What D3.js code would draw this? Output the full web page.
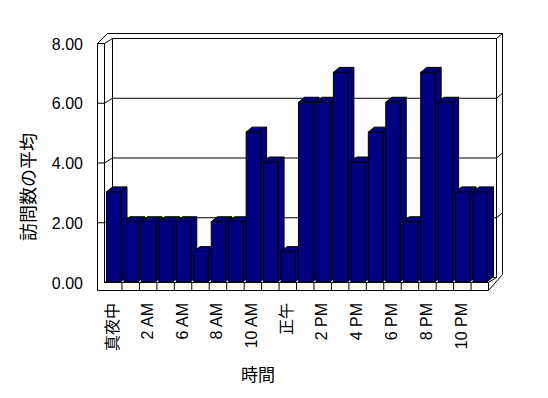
<!DOCTYPE html>
<html><head><meta charset="utf-8">
<script src="https://cdn.jsdelivr.net/npm/d3@7/dist/d3.min.js"></script>
<style>
html,body{margin:0;padding:0;background:#fff;}
text{font-family:"Liberation Sans","Noto Sans CJK JP",sans-serif;fill:#000;}
</style></head><body>
<svg id="c" width="548" height="398"></svg>
<script>
const categories = ["真夜中","1 AM","2 AM","5 AM","6 AM","7 AM","8 AM","9 AM","10 AM","11 AM","正午","1 PM","2 PM","3 PM","4 PM","5 PM","6 PM","7 PM","8 PM","9 PM","10 PM","11 PM"];
const values = [3,2,2,2,2,1,2,2,5,4,1,6,6,7,4,5,6,2,7,6,3,3];
const yTicks = [0,2,4,6,8];
const yTitle = "訪問数の平均";
const xTitle = "時間";

const svg = d3.select("#c");
const g = svg.append("g").attr("transform","translate(0.5,0.5)");

const x = d3.scaleBand().domain(categories).range([104,488]).paddingInner(0).paddingOuter(0);
const y = d3.scaleLinear().domain([0,8]).range([282,43]);

const wdx = 8, wdy = -5;   // wall depth
const bdx = 6, bdy = -5;   // bar depth
const L = 97, R0 = 104, R1 = 488;
const yTop = y(8), yBot = y(0), floorB = 290;

// outer frame
g.append("path")
  .attr("d", `M${L},${yTop}L${L+10},${yTop-10}L${R1+wdx+6},${yTop-10}L${R1+wdx+6},${yBot+wdy-3}L${R1},${floorB}L${L},${floorB}Z`)
  .attr("fill","#fff").attr("stroke","#000");
// back wall inner face
g.append("rect").attr("x",R0+wdx).attr("y",yTop+wdy).attr("width",R1-R0).attr("height",yBot-yTop)
  .attr("fill","#fff").attr("stroke","#000");
const line = (x1,y1,x2,y2)=>g.append("line").attr("x1",x1).attr("y1",y1).attr("x2",x2).attr("y2",y2).attr("stroke","#000");
// left wall
line(R0,yTop,R0,yBot);
line(L,yTop,R0,yTop);
line(R0,yTop,R0+wdx,yTop+wdy);
line(R0,yBot,R0+wdx,yBot+wdy);
// right wall
line(R1+wdx,yTop+wdy,R1+wdx+6,yTop-10);
line(R1,yBot,R1+wdx,yBot+wdy);
// floor front
line(R0,yBot,R1,yBot);
line(R1,yBot,R1,floorB);
categories.forEach((c,i)=>{ if(i>0) line(x(c),yBot,x(c),floorB); });

// gridlines
yTicks.filter(v=>v>0&&v<8).forEach(v=>{
  const yy = y(v);
  g.append("path").attr("fill","none").attr("stroke","#000")
   .attr("d",`M${L},${yy}L${R0},${yy}L${R0+wdx},${yy+wdy}L${R1+wdx},${yy+wdy}L${R1+wdx+6},${yy+wdy-5}`);
});

// bars
const bw = x.bandwidth()*0.83;
const navy = "#000080";
categories.forEach((c,i)=>{
  const v = values[i];
  const x0 = x(c)+2, x1 = x0+bw, yt = y(v)-1, yb = yBot-1;
  const bar = g.append("g");
  bar.append("path").attr("fill",navy).attr("stroke","#000")
    .attr("d",`M${x1},${yt}L${x1+bdx},${yt+bdy}L${x1+bdx},${yb+bdy}L${x1},${yb}Z`);
  bar.append("path").attr("fill",navy).attr("stroke","#000")
    .attr("d",`M${x0},${yt}L${x0+bdx},${yt+bdy}L${x1+bdx},${yt+bdy}L${x1},${yt}Z`);
  bar.append("rect").attr("x",x0).attr("y",yt).attr("width",bw).attr("height",yb-yt)
    .attr("fill",navy).attr("stroke","#000");
});

// y tick labels
svg.selectAll(".yl").data(yTicks).enter().append("text")
  .attr("x",83).attr("y",d=>y(d)+1).attr("text-anchor","end").attr("dominant-baseline","central")
  .attr("font-size",16).text(d3.format(".2f"));

// x labels
categories.forEach((c,i)=>{
  if(i%2!==0) return;
  const cx = x(c)+2+bw/2-1;
  svg.append("text").attr("transform",`translate(${cx},303) rotate(-90)`)
    .attr("text-anchor","end").attr("dominant-baseline","central")
    .attr("font-size",16).text(c);
});

// titles
svg.append("text").attr("transform","translate(29,187) rotate(-90)")
  .attr("text-anchor","middle").attr("dominant-baseline","central").attr("font-size",18).text(yTitle);
svg.append("text").attr("x",258).attr("y",375).attr("text-anchor","middle").attr("dominant-baseline","central")
  .attr("font-size",17).text(xTitle);
</script>
</body></html>
